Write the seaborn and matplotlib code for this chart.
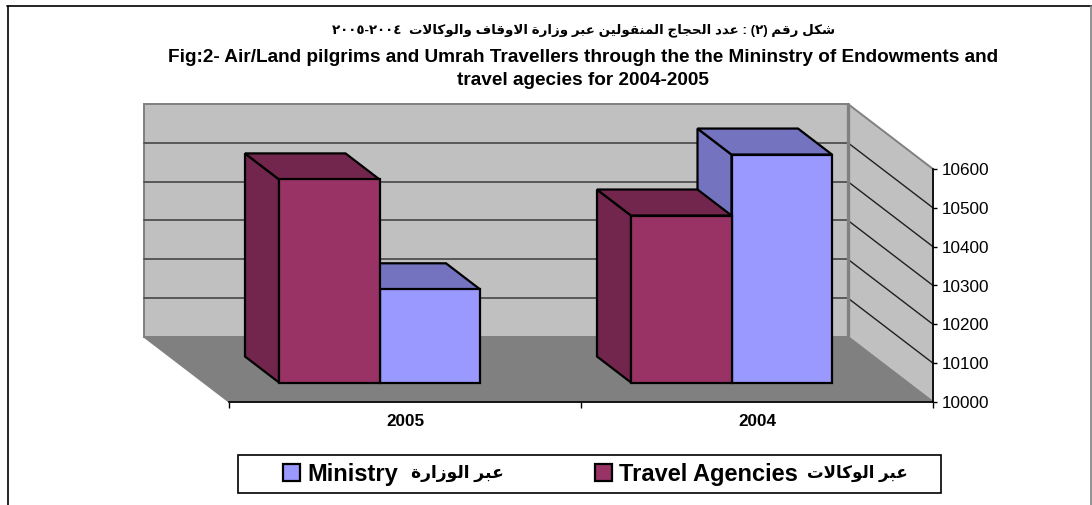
import matplotlib
matplotlib.use("Agg")
import matplotlib.pyplot as plt
from matplotlib.lines import Line2D
from matplotlib.patches import Polygon, Rectangle
import pandas as pd
import seaborn as sns

# ---- data ----
years = ["2005", "2004"]
agencies = [10523, 10430]
ministry = [10240, 10587]
y_ticks = [10000, 10100, 10200, 10300, 10400, 10500, 10600]
title_ar = "شكل رقم (٢) : عدد الحجاج المنقولين عبر وزارة الاوقاف والوكالات  ٢٠٠٤-٢٠٠٥"
title_en = "Fig:2- Air/Land pilgrims and Umrah Travellers through the the Mininstry of Endowments and\ntravel agecies for 2004-2005"
name_agencies_en = "Travel Agencies"
name_agencies_ar = "عبر الوكالات"
name_ministry_en = "Ministry"
name_ministry_ar = "عبر الوزارة"

# ---- Arabic shaping (matplotlib draws glyphs left to right, unshaped) ----
FORMS = {
    "ا": (0xFE8D, 0xFE8E), "ة": (0xFE93, 0xFE94), "د": (0xFEA9, 0xFEAA),
    "ر": (0xFEAD, 0xFEAE), "ز": (0xFEAF, 0xFEB0), "و": (0xFEED, 0xFEEE),
    "ب": (0xFE8F, 0xFE90, 0xFE91, 0xFE92), "ت": (0xFE95, 0xFE96, 0xFE97, 0xFE98),
    "ج": (0xFE9D, 0xFE9E, 0xFE9F, 0xFEA0), "ح": (0xFEA1, 0xFEA2, 0xFEA3, 0xFEA4),
    "ش": (0xFEB5, 0xFEB6, 0xFEB7, 0xFEB8), "ع": (0xFEC9, 0xFECA, 0xFECB, 0xFECC),
    "ف": (0xFED1, 0xFED2, 0xFED3, 0xFED4), "ق": (0xFED5, 0xFED6, 0xFED7, 0xFED8),
    "ك": (0xFED9, 0xFEDA, 0xFEDB, 0xFEDC), "ل": (0xFEDD, 0xFEDE, 0xFEDF, 0xFEE0),
    "م": (0xFEE1, 0xFEE2, 0xFEE3, 0xFEE4), "ن": (0xFEE5, 0xFEE6, 0xFEE7, 0xFEE8),
    "ي": (0xFEF1, 0xFEF2, 0xFEF3, 0xFEF4),
}
DIGITS = "٠١٢٣٤٥٦٧٨٩"


def shape(text):
    out = []
    i = 0
    n = len(text)
    while i < n:
        ch = text[i]
        if ch not in FORMS:
            out.append(ch)
            i += 1
            continue
        prev = text[i - 1] if i else ""
        joins_prev = prev in FORMS and len(FORMS[prev]) == 4
        if ch == "ل" and i + 1 < n and text[i + 1] == "ا":
            out.append(chr(0xFEFC if joins_prev else 0xFEFB))
            i += 2
            continue
        nxt = text[i + 1] if i + 1 < n else ""
        forms = FORMS[ch]
        joins_next = len(forms) == 4 and nxt in FORMS
        if joins_prev and joins_next:
            out.append(chr(forms[3]))
        elif joins_next:
            out.append(chr(forms[2]))
        elif joins_prev:
            out.append(chr(forms[1]))
        else:
            out.append(chr(forms[0]))
        i += 1
    vis = "".join(out)[::-1].translate(str.maketrans("()", ")("))
    res, run = [], []
    for ch in vis:
        if ch in DIGITS:
            run.append(ch)
        else:
            res.extend(run[::-1])
            run = []
            res.append(ch)
    res.extend(run[::-1])
    return "".join(res)


# ---- figure ----
W, H = 1092, 505
sns.set_theme(style="white")
plt.rcParams["font.family"] = ["Liberation Sans", "DejaVu Sans"]
fig = plt.figure(figsize=(W / 100, H / 100), dpi=100, facecolor="white")
ax = fig.add_axes([229 / W, 1 - 402 / H, 704 / W, 233 / H], facecolor="none")

df = pd.DataFrame({
    "year": years * 2,
    "value": agencies + ministry,
    "series": [name_agencies_en] * len(years) + [name_ministry_en] * len(years),
})
COL_FRONT = {name_agencies_en: "#993366", name_ministry_en: "#9999FF"}
COL_DARK = {name_agencies_en: "#73264D", name_ministry_en: "#7373BF"}
sns.barplot(data=df, x="year", y="value", hue="series", order=years,
            hue_order=[name_agencies_en, name_ministry_en], palette=COL_FRONT,
            saturation=1, width=0.571, gap=0, edgecolor="black", linewidth=1.6,
            ax=ax, legend=True, zorder=4)

BASE, TOP = y_ticks[0], y_ticks[-1]
X0, X1 = -0.5, 1.5
ax.set_xlim(X0, X1)
ax.set_ylim(BASE, TOP)
DX = 85 / 352        # categories shifted left per unit of depth
DV = 65 / (233 / 600)  # value units shifted up per unit of depth
D0, D1 = 0.3, 0.7    # the depth the bars occupy


def pt(x, v, d):
    return (x - d * DX, v + d * DV)


def face(points, **kw):
    ax.add_patch(Polygon([pt(*p) for p in points], closed=True, clip_on=False, **kw))


# walls and floor
wall = dict(facecolor="#C0C0C0", edgecolor="#808080", linewidth=1.4, zorder=0.5)
face([(X0, BASE, 1), (X1, BASE, 1), (X1, TOP, 1), (X0, TOP, 1)], **wall)
face([(X1, BASE, 0), (X1, TOP, 0), (X1, TOP, 1), (X1, BASE, 1)], **wall)
face([(X0, BASE, 0), (X1, BASE, 0), (X1, BASE, 1), (X0, BASE, 1)],
     facecolor="#808080", edgecolor="#808080", linewidth=1, zorder=0.7)
for v in y_ticks[1:-1]:
    xs, ys = zip(pt(X0, v, 1), pt(X1, v, 1))
    ax.plot(xs, ys, color="#505050", lw=1.3, clip_on=False, zorder=1)
    xs, ys = zip(pt(X1, v, 1), pt(X1, v, 0))
    ax.plot(xs, ys, color="#202020", lw=1.0, clip_on=False, zorder=1)
xs, ys = zip(pt(X1, BASE, 1), pt(X1, TOP, 1))
ax.plot(xs, ys, color="#808080", lw=2.4, clip_on=False, zorder=1.1)

# bars: the fronts come from seaborn; they are moved to their depth, sides are added
series_order = [name_agencies_en, name_ministry_en]
for k, (cont, name) in enumerate(zip(ax.containers, series_order)):
    z = 6 - 2 * k
    for rect in cont:
        x, w, val = rect.get_x(), rect.get_width(), rect.get_height()
        fx, fy = pt(x, BASE, D0)
        rect.set_x(fx)
        rect.set_y(fy)
        rect.set_height(val - BASE)
        rect.set_zorder(z)
        rect.set_clip_on(False)
        style = dict(facecolor=COL_DARK[name], edgecolor="black", linewidth=1.6,
                     joinstyle="miter", zorder=z - 0.5)
        face([(x, BASE, D0), (x, val, D0), (x, val, D1), (x, BASE, D1)], **style)
        face([(x, val, D0), (x + w, val, D0), (x + w, val, D1), (x, val, D1)], **style)

# axes
for s in ("top", "left"):
    ax.spines[s].set_visible(False)
for s in ("right", "bottom"):
    ax.spines[s].set_color("black")
    ax.spines[s].set_linewidth(1.2)
    ax.spines[s].set_zorder(2)
ax.yaxis.tick_right()
ax.set_yticks(y_ticks)
ax.tick_params(axis="y", which="major", length=3, width=1, color="black", pad=3,
               labelsize=12.3, labelcolor="black", right=True, left=False)
ax.set_xticks(range(len(years)))
ax.set_xticks([X0, 0.5, X1], minor=True)
ax.tick_params(axis="x", which="major", length=0, pad=9, labelsize=12.3,
               labelcolor="black")
ax.tick_params(axis="x", which="minor", length=4, width=1, color="black", bottom=True)
for t in ax.get_xticklabels():
    t.set_fontweight("bold")
ax.set_xlabel("")
ax.set_ylabel("")

# legend: frame, series swatches with their English names, Arabic names beside them
fig.add_artist(Rectangle((238 / W, 1 - 493 / H), 703 / W, 38 / H, transform=fig.transFigure,
                         facecolor="white", edgecolor="black", linewidth=1.2, zorder=1))
handles, labels = ax.get_legend_handles_labels()
handles, labels = handles[::-1], labels[::-1]
ax.get_legend().remove()
leg = fig.legend(handles, labels, ncol=2, loc="center left",
                 bbox_to_anchor=(283 / W, 1 - 474 / H), borderaxespad=0, borderpad=0,
                 frameon=False, handlelength=0.72, handleheight=0.72, handletextpad=0.3,
                 columnspacing=8.35, labelcolor="black", prop=dict(weight="bold", size=17))
leg.set_zorder(2)
fig.text(457.5 / W, 1 - 473 / H, shape(name_ministry_ar), ha="center", va="center",
         fontsize=12.3, fontweight="bold", color="black", zorder=3)
fig.text(857.5 / W, 1 - 473 / H, shape(name_agencies_ar), ha="center", va="center",
         fontsize=12, fontweight="bold", color="black", zorder=3)

# titles
fig.text(584 / W, 1 - 30 / H, shape(title_ar), ha="center", va="center",
         fontsize=9.6, fontweight="bold", color="black")
fig.text(583 / W, 1 - 69 / H, title_en, ha="center", va="center",
         fontsize=13.7, fontweight="bold", color="black", linespacing=1.4)

# chart area border
fig.add_artist(Line2D([7.5 / W, 7.5 / W], [0, 1 - 5.5 / H], color="black", lw=1.2))
fig.add_artist(Line2D([7 / W, 1], [1 - 5.5 / H, 1 - 5.5 / H], color="black", lw=1.2))
fig.add_artist(Line2D([1091 / W, 1091 / W], [0, 1 - 5.5 / H], color="#808080", lw=1.2))

fig.savefig("out.png", dpi=100, facecolor="white")
